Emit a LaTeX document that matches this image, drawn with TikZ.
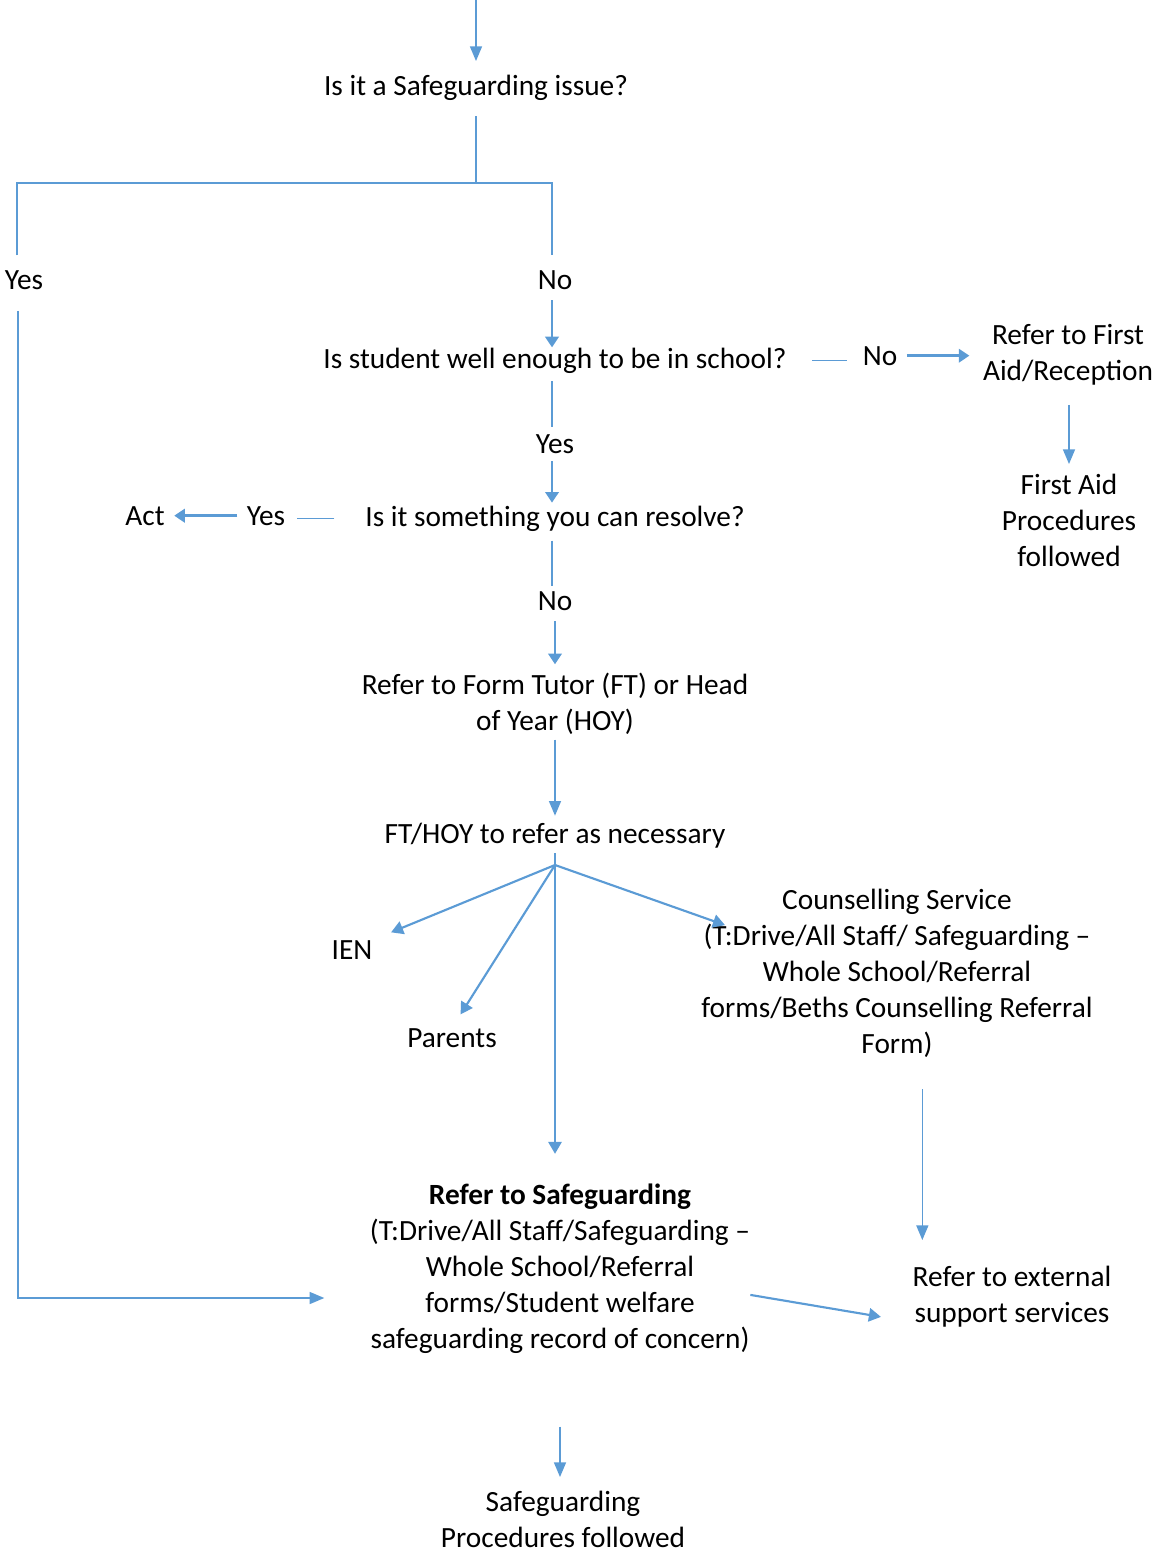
\documentclass[tikz,border=0pt]{standalone}
\usepackage{fontspec}
\setmainfont{Carlito}
\definecolor{SGblue}{HTML}{5B9BD5}
\usetikzlibrary{arrows.meta}

\begin{document}
\begin{tikzpicture}[x=0.75pt, y=-0.75pt,
    txt/.style={align=center, inner sep=0pt, anchor=base, font=\fontsize{22}{27}\selectfont},
    link/.style={SGblue, line width=0.9pt},
    flow/.style={SGblue, line width=1.1pt, -{Triangle[length=11pt, width=9pt]}},
    fanflow/.style={SGblue, line width=1.6pt, -{Triangle[length=9pt, width=10pt]}},
    boldflow/.style={SGblue, line width=2.2pt, -{Triangle[length=8pt, width=10pt]}}]
    \useasboundingbox (0,0) rectangle (1156,1553);
    % Questions and answers (multi-line nodes sit on their last baseline)
    \node[txt] (issue) at (476,95) {Is it a Safeguarding issue?};
    \node[txt] (yesA) at (24,289) {Yes};
    \node[txt] (noA) at (555,289) {No};
    \node[txt] (well) at (555,368) {Is student well enough to be in school?};
    \node[txt] (noB) at (880,365) {No};
    \node[txt] (firstaid) at (1068,380) {Refer to First\\Aid/Reception};
    \node[txt] (fadone) at (1069,566) {First Aid\\Procedures\\followed};
    \node[txt] (yesB) at (555,453) {Yes};
    \node[txt] (resolve) at (555,526) {Is it something you can resolve?};
    \node[txt] (yesC) at (266,525) {Yes};
    \node[txt] (act) at (145,525) {Act};
    \node[txt] (noC) at (555,610) {No};
    % Referrals
    \node[txt] (tutor) at (555,730) {Refer to Form Tutor (FT) or Head\\of Year (HOY)};
    \node[txt] (ft) at (555,843) {FT/HOY to refer as necessary};
    \node[txt] (ien) at (352,959) {IEN};
    \node[txt] (parents) at (452,1047) {Parents};
    \node[txt] (counsel) at (897,1053) {Counselling Service\\(T:Drive/All Staff/ Safeguarding –\\Whole School/Referral\\forms/Beths Counselling Referral\\Form)};
    \node[txt] (external) at (1012,1322) {Refer to external\\support services};
    \node[txt] (refer) at (560,1348) {\textbf{Refer to Safeguarding}\\(T:Drive/All Staff/Safeguarding –\\Whole School/Referral\\forms/Student welfare\\safeguarding record of concern)};
    \node[txt] (sgdone) at (563,1547) {Safeguarding\\Procedures followed};
    % Junctions
    \coordinate (start) at (476,0);
    \coordinate (splitL) at (17,183);
    \coordinate (splitR) at (552,183);
    \coordinate (yesbend) at (18,1298);
    \coordinate (fan) at (555,865);
    % Safeguarding split
    \draw[flow, shorten >=10pt] (start) -- (issue.north);
    \draw[link, shorten <=12pt] (issue.south) -- (issue.south |- splitL);
    \draw[link, shorten <=11pt, shorten >=11pt] (yesA.north -| splitL) -- (splitL) -- (splitR) -- (noA.north -| splitR);
    \draw[flow, shorten <=16pt, shorten >=34pt] (yesA.south -| yesbend) -- (yesbend) -- (yesbend -| refer.west);
    % Well enough?
    \draw[boldflow, shorten <=8pt] (splitR |- noA.south) -- (splitR |- well.north);
    \draw[link, shorten <=19pt, shorten >=12pt] (well.east) -- (well.east -| noB.west);
    \draw[boldflow, shorten <=7pt, shorten >=10pt] (noB.east) -- (noB.east -| firstaid.west);
    \draw[flow, shorten <=15pt, shorten >=7pt] (fadone.north |- firstaid.south) -- (fadone.north);
    \draw[link, shorten <=6pt, shorten >=5pt] (splitR |- well.south) -- (splitR |- yesB.north);
    \draw[boldflow, shorten <=6pt, shorten >=2pt] (splitR |- yesB.south) -- (splitR |- resolve.north);
    % Can you resolve?
    \draw[link, shorten <=23pt, shorten >=9pt] (resolve.west) -- (resolve.west -| yesC.east);
    \draw[boldflow, shorten <=7pt, shorten >=7pt] (yesC.west) -- (yesC.west -| act.east);
    \draw[link, shorten <=7pt, shorten >=4pt] (splitR |- resolve.south) -- (splitR |- noC.north);
    \draw[boldflow, shorten <=8pt, shorten >=6pt] (noC.south) -- (tutor.north);
    \draw[flow, shorten <=4pt, shorten >=5pt] (tutor.south) -- (ft.north);
    % FT/HOY fan
    \draw[link, shorten <=4pt] (ft.south) -- (fan);
    \draw[fanflow, shorten >=15pt] (fan) -- (ien.north east);
    \draw[fanflow, shorten >=12pt] (fan) -- (parents.north);
    \draw[fanflow, shorten >=22pt] (fan) -- (fan |- refer.north);
    \draw[fanflow, shorten >=-19pt] (fan) -- (counsel.164);
    \draw[flow, shorten <=24pt, shorten >=19pt] ([xshift=19pt]counsel.south) -- ([xshift=19pt]counsel.south |- external.north);
    % Safeguarding outcome
    \draw[fanflow, shorten >=24pt] ([yshift=-20pt]refer.east) -- ([yshift=-19.5pt]external.west);
    \draw[flow, shorten <=55pt, shorten >=10pt] (refer.south) -- (refer.south |- sgdone.north);
\end{tikzpicture}
\end{document}
